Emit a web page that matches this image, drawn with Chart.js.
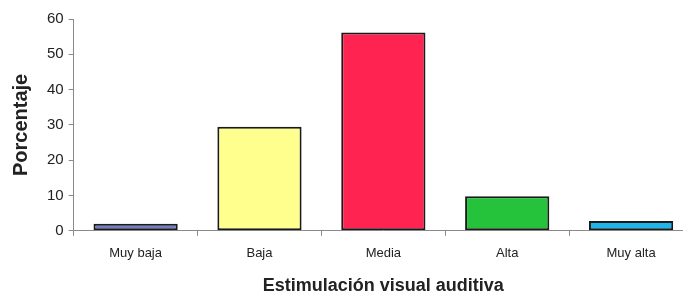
<!DOCTYPE html>
<html>
<head>
<meta charset="utf-8">
<script src="https://cdn.jsdelivr.net/npm/chart.js@4"></script>
<style>
  html, body { margin: 0; padding: 0; background: #fff; overflow: hidden; }
  #wrap { width: 700px; height: 297px; }
</style>
</head>
<body>
<div id="wrap"><canvas id="chart"></canvas></div>
<script>
// categories and values
const categories = ["Muy baja", "Baja", "Media", "Alta", "Muy alta"];
const porcentaje = [2, 29.5, 56.2, 9.8, 2.8];
const barColors = ["#6f7fc4", "#ffff8e", "#ff2352", "#25c23c", "#1fb4ea"];
const yTicks = [0, 10, 20, 30, 40, 50, 60];

const ctx = document.getElementById("chart").getContext("2d");
const axisGray = "#8a8a8a";

new Chart(ctx, {
    type: "bar",
    data: {
        labels: categories,
        datasets: [{
            label: "Porcentaje",
            data: porcentaje,
            backgroundColor: barColors,
            borderColor: "#1a1a1a",
            borderWidth: 2,
            borderSkipped: false,
            barPercentage: 0.68,
            categoryPercentage: 1.0
        }]
    },
    options: {
        responsive: true,
        maintainAspectRatio: false,
        animation: false,
        layout: { padding: { top: 19, right: 7, left: 9, bottom: 0 } },
        plugins: {
            legend: { display: false },
            tooltip: { enabled: false }
        },
        scales: {
            x: {
                grid: {
                    display: true,
                    offset: true,
                    drawOnChartArea: false,
                    tickLength: 5,
                    color: axisGray
                },
                border: { color: axisGray, width: 1 },
                ticks: {
                    color: "#222",
                    padding: 10,
                    font: { family: "Liberation Sans", size: 13 }
                },
                title: {
                    display: true,
                    text: "Estimulación visual auditiva",
                    color: "#222",
                    padding: { top: 4, bottom: 0 },
                    font: { family: "Liberation Sans", size: 18, weight: "bold" }
                }
            },
            y: {
                min: 0,
                max: 60,
                afterBuildTicks: (scale) => {
                    scale.ticks = yTicks.map(v => ({ value: v }));
                },
                grid: {
                    display: true,
                    drawOnChartArea: false,
                    tickLength: 5,
                    color: axisGray
                },
                border: { color: axisGray, width: 1 },
                ticks: {
                    color: "#222",
                    padding: 5,
                    font: { family: "Liberation Sans", size: 15 }
                },
                title: {
                    display: true,
                    text: "Porcentaje",
                    color: "#222",
                    padding: { top: 0, bottom: 9 },
                    font: { family: "Liberation Sans", size: 20, weight: "bold" }
                }
            }
        }
    }
});
</script>
</body>
</html>
